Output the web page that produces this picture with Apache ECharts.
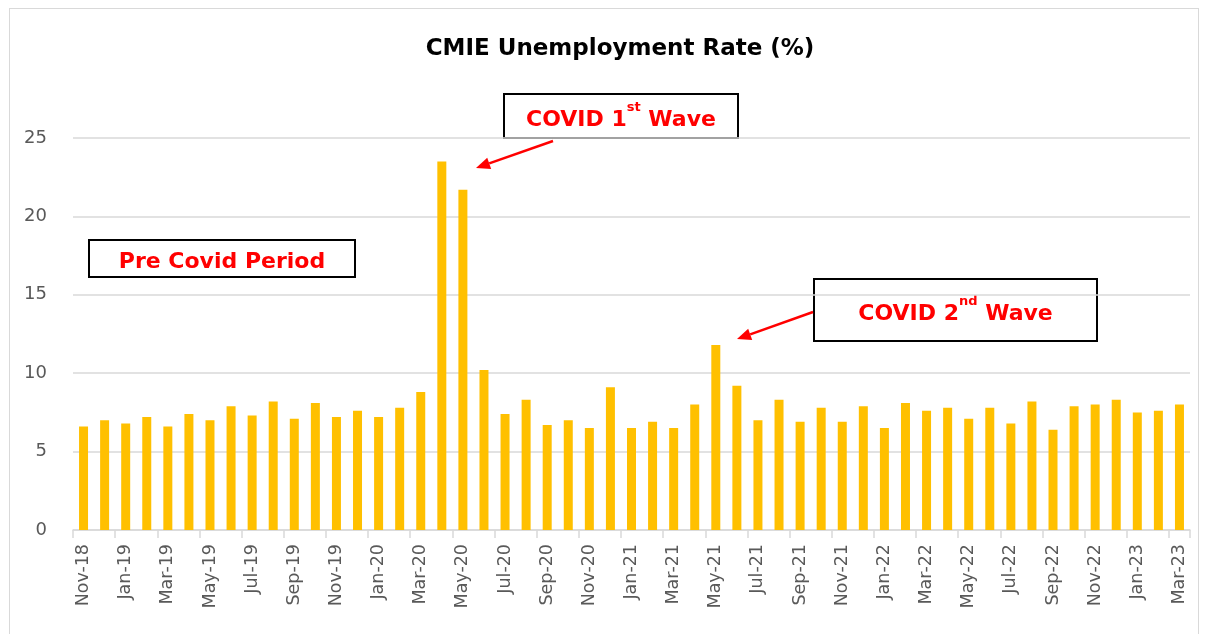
<!DOCTYPE html>
<html>
<head>
    <meta charset="utf-8" />
    <title>CMIE Unemployment Rate</title>
    <script src="https://cdn.jsdelivr.net/npm/echarts@6/dist/echarts.min.js"></script>
    <style>
        html, body { margin: 0; padding: 0; background: #fff; }
        #frame { position: absolute; left: 9px; top: 8px; width: 1190px; height: 640px; border: 1px solid #d9d9d9; box-sizing: border-box; }
        #main { width: 1208px; height: 634px; }
    </style>
</head>
<body>
    <div id="frame"></div>
    <div id="main"></div>
    <script type="text/javascript">
        // months shown on the category axis
        var months = [
            'Nov-18', 'Dec-18',
            'Jan-19', 'Feb-19', 'Mar-19', 'Apr-19', 'May-19', 'Jun-19', 'Jul-19', 'Aug-19', 'Sep-19', 'Oct-19', 'Nov-19', 'Dec-19',
            'Jan-20', 'Feb-20', 'Mar-20', 'Apr-20', 'May-20', 'Jun-20', 'Jul-20', 'Aug-20', 'Sep-20', 'Oct-20', 'Nov-20', 'Dec-20',
            'Jan-21', 'Feb-21', 'Mar-21', 'Apr-21', 'May-21', 'Jun-21', 'Jul-21', 'Aug-21', 'Sep-21', 'Oct-21', 'Nov-21', 'Dec-21',
            'Jan-22', 'Feb-22', 'Mar-22', 'Apr-22', 'May-22', 'Jun-22', 'Jul-22', 'Aug-22', 'Sep-22', 'Oct-22', 'Nov-22', 'Dec-22',
            'Jan-23', 'Feb-23', 'Mar-23'
        ];
        // unemployment rate, %
        var rates = [
            6.6, 7.0,
            6.8, 7.2, 6.6, 7.4, 7.0, 7.9, 7.3, 8.2, 7.1, 8.1, 7.2, 7.6,
            7.2, 7.8, 8.8, 23.5, 21.7, 10.2, 7.4, 8.3, 6.7, 7.0, 6.5, 9.1,
            6.5, 6.9, 6.5, 8.0, 11.8, 9.2, 7.0, 8.3, 6.9, 7.8, 6.9, 7.9,
            6.5, 8.1, 7.6, 7.8, 7.1, 7.8, 6.8, 8.2, 6.4, 7.9, 8.0, 8.3,
            7.5, 7.6, 8.0
        ];
        var yTicks = { min: 0, max: 25, interval: 5 };

        var fontMain = '"DejaVu Sans", sans-serif';
        var red = '#ff0000';

        // boxed annotation with optional superscript
        function noteBox(x, y, w, h, parts) {
            return {
                type: 'group', left: x, top: y,
                children: [
                    { type: 'rect', shape: { x: 0, y: 0, width: w, height: h },
                      style: { fill: '#fff', stroke: '#000', lineWidth: 2 } },
                    { type: 'text', x: w / 2, y: h / 2,
                      style: {
                          text: parts, fill: red, align: 'center', verticalAlign: 'middle',
                          font: 'bold 22px ' + fontMain,
                          rich: {
                              b: { fontSize: 22, fontWeight: 'bold', fontFamily: fontMain, fill: red, color: red, verticalAlign: 'bottom', lineHeight: 30 },
                              s: { fontSize: 13, fontWeight: 'bold', fontFamily: fontMain, fill: red, color: red, verticalAlign: 'top', lineHeight: 30, padding: [0, 0, 16, 0] }
                          }
                      } }
                ]
            };
        }

        // red arrow from (x1,y1) pointing at (x2,y2)
        function arrow(x1, y1, x2, y2) {
            var ang = Math.atan2(y2 - y1, x2 - x1);
            var len = 14, half = 6;
            var bx = x2 - len * Math.cos(ang), by = y2 - len * Math.sin(ang);
            var px = -Math.sin(ang) * half, py = Math.cos(ang) * half;
            return [
                { type: 'line', shape: { x1: x1, y1: y1, x2: bx, y2: by }, style: { stroke: red, lineWidth: 2.5 } },
                { type: 'polygon', shape: { points: [[x2, y2], [bx + px, by + py], [bx - px, by - py]] }, style: { fill: red } }
            ];
        }

        var graphics = [
            noteBox(88, 239, 266, 37, '{b|Pre Covid Period}'),
            noteBox(503, 93, 234, 44, '{b|COVID 1}{s|st}{b| Wave}'),
            noteBox(813, 278, 283, 62, '{b|COVID 2}{s|nd}{b| Wave}')
        ].concat(arrow(553, 141, 476, 168)).concat(arrow(813, 312, 737, 339));

        var myChart = echarts.init(document.getElementById('main'), null, { renderer: 'canvas' });
        var option = {
            animation: false,
            title: {
                text: 'CMIE Unemployment Rate (%)',
                left: 615, top: 33, textAlign: 'center',
                textStyle: { fontFamily: fontMain, fontSize: 23, fontWeight: 'bold', color: '#000' }
            },
            grid: { left: 73, right: 18, top: 138, bottom: 104 },
            xAxis: {
                type: 'category',
                data: months,
                axisLine: { lineStyle: { color: '#d9d9d9', width: 1.5 } },
                axisTick: { show: true, interval: 1, length: 8, lineStyle: { color: '#d9d9d9', width: 1.5 } },
                axisLabel: { interval: 1, rotate: 90, margin: 14, color: '#595959', fontSize: 17.5, fontFamily: fontMain }
            },
            yAxis: {
                type: 'value',
                min: yTicks.min, max: yTicks.max, interval: yTicks.interval,
                axisLine: { show: false },
                axisTick: { show: false },
                axisLabel: { margin: 26, color: '#595959', fontSize: 18, fontFamily: fontMain },
                splitLine: { lineStyle: { color: '#d9d9d9', width: 1.5 } }
            },
            series: [{
                type: 'bar',
                data: rates,
                barWidth: 9,
                itemStyle: { color: '#ffc000' }
            }],
            graphic: graphics
        };
        myChart.setOption(option);
    </script>
</body>
</html>
